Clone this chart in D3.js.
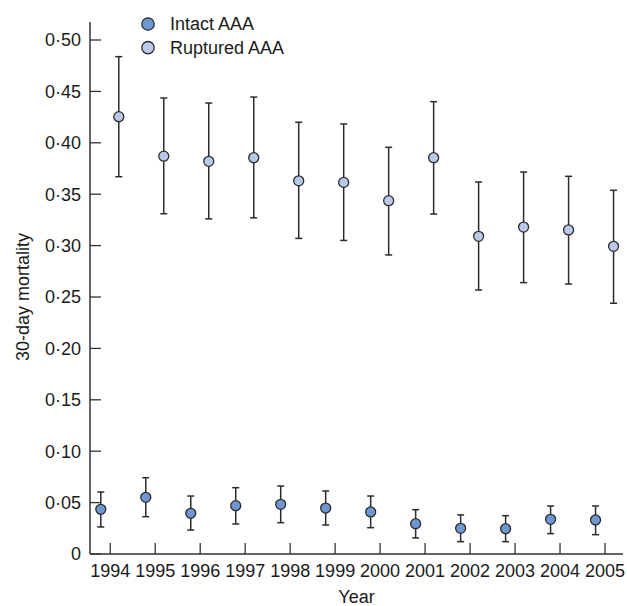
<!DOCTYPE html>
<html>
<head>
<meta charset="utf-8">
<script src="https://cdn.jsdelivr.net/npm/d3@7"></script>
<style>
  body { margin: 0; background: #fff; }
  svg text { font-family: 'Liberation Sans', Arial, sans-serif; fill: #1a1a1a; }
</style>
</head>
<body>
<div id="chart"></div>
<script>
const years = [1994, 1995, 1996, 1997, 1998, 1999, 2000, 2001, 2002, 2003, 2004, 2005]

const intactMean = [0.0435, 0.0551, 0.0396, 0.047, 0.0483, 0.0447, 0.0409, 0.0295, 0.025, 0.0246, 0.0337, 0.0331]
const intactLow = [0.0263, 0.0363, 0.0233, 0.0292, 0.0305, 0.0282, 0.0256, 0.0156, 0.012, 0.012, 0.0198, 0.0188]
const intactHigh = [0.0603, 0.0742, 0.0564, 0.0645, 0.0661, 0.0613, 0.0564, 0.0431, 0.038, 0.0373, 0.0467, 0.0467]

const rupturedMean = [0.4254, 0.387, 0.382, 0.3855, 0.363, 0.3615, 0.3437, 0.3855, 0.309, 0.318, 0.3152, 0.2993]
const rupturedLow = [0.367, 0.331, 0.326, 0.327, 0.307, 0.305, 0.2909, 0.3307, 0.2568, 0.264, 0.2626, 0.2439]
const rupturedHigh = [0.4838, 0.4436, 0.4387, 0.4445, 0.42, 0.4183, 0.3956, 0.44, 0.3619, 0.3716, 0.3674, 0.3538]

const yTicks = [0, 0.05, 0.1, 0.15, 0.2, 0.25, 0.3, 0.35, 0.4, 0.45, 0.5]

const seriesList = [
  { name: 'Intact AAA', mean: intactMean, low: intactLow, high: intactHigh, fill: '#7096d2', shift: -0.21 },
  { name: 'Ruptured AAA', mean: rupturedMean, low: rupturedLow, high: rupturedHigh, fill: '#b9c9e9', shift: 0.19 },
]

const width = 627
const height = 606
const margin = { top: 22, right: 4, bottom: 52, left: 90 }
const fontSize = '18px'

const svg = d3.select('#chart')
  .append('svg')
  .attr('width', width)
  .attr('height', height)

const x = d3.scaleLinear()
  .domain([1993.55, 2005.4])
  .range([margin.left, width - margin.right])

const y = d3.scaleLinear()
  .domain([0, 0.5])
  .range([554, 40])

const axisColor = '#333'

// y axis
svg.append('line')
  .attr('x1', margin.left).attr('x2', margin.left)
  .attr('y1', margin.top).attr('y2', y(0))
  .attr('stroke', axisColor).attr('stroke-width', 1.5)

const yAxis = svg.append('g')
yAxis.selectAll('line')
  .data(yTicks)
  .join('line')
  .attr('x1', margin.left).attr('x2', margin.left + 11)
  .attr('y1', d => y(d)).attr('y2', d => y(d))
  .attr('stroke', axisColor).attr('stroke-width', 1.3)
yAxis.selectAll('text')
  .data(yTicks)
  .join('text')
  .attr('x', margin.left - 9)
  .attr('y', d => y(d))
  .attr('dy', '0.35em')
  .attr('text-anchor', 'end')
  .style('font-size', fontSize)
  .text(d => d === 0 ? '0' : d3.format('.2f')(d).replace('.', '\u00b7'))

// x axis
svg.append('line')
  .attr('x1', margin.left).attr('x2', width - margin.right)
  .attr('y1', y(0)).attr('y2', y(0))
  .attr('stroke', axisColor).attr('stroke-width', 1.5)

const xAxis = svg.append('g')
xAxis.selectAll('line')
  .data(years)
  .join('line')
  .attr('x1', d => x(d)).attr('x2', d => x(d))
  .attr('y1', y(0)).attr('y2', y(0) - 11)
  .attr('stroke', axisColor).attr('stroke-width', 1.3)
xAxis.selectAll('text')
  .data(years)
  .join('text')
  .attr('x', d => x(d))
  .attr('y', 577)
  .attr('text-anchor', 'middle')
  .style('font-size', fontSize)
  .text(d => d)

svg.append('text')
  .attr('x', (margin.left + width - margin.right) / 2)
  .attr('y', 603)
  .attr('text-anchor', 'middle')
  .style('font-size', fontSize)
  .text('Year')

svg.append('text')
  .attr('transform', 'translate(28.5, 297) rotate(-90)')
  .attr('text-anchor', 'middle')
  .style('font-size', fontSize)
  .text('30-day mortality')

// error bars + points
seriesList.forEach(s => {
  const rows = years.map((yr, i) => ({ yr, mean: s.mean[i], low: s.low[i], high: s.high[i] }))
  const g = svg.append('g')
  const cx = d => x(d.yr + s.shift)

  g.selectAll('line.bar')
    .data(rows)
    .join('line')
    .attr('class', 'bar')
    .attr('x1', cx).attr('x2', cx)
    .attr('y1', d => y(d.low)).attr('y2', d => y(d.high))
    .attr('stroke', '#2b2b2b').attr('stroke-width', 1.5)

  ;['low', 'high'].forEach(k => {
    g.selectAll(`line.cap-${k}`)
      .data(rows)
      .join('line')
      .attr('class', `cap-${k}`)
      .attr('x1', d => cx(d) - 3.5).attr('x2', d => cx(d) + 3.5)
      .attr('y1', d => y(d[k])).attr('y2', d => y(d[k]))
      .attr('stroke', '#2b2b2b').attr('stroke-width', 1.5)
  })

  g.selectAll('circle')
    .data(rows)
    .join('circle')
    .attr('cx', cx)
    .attr('cy', d => y(d.mean))
    .attr('r', 5)
    .attr('fill', s.fill)
    .attr('stroke', '#2b2b2b')
    .attr('stroke-width', 1.3)
})

// legend
const legend = svg.append('g')
legend.selectAll('circle')
  .data(seriesList)
  .join('circle')
  .attr('cx', 148)
  .attr('cy', (d, i) => 24 + i * 23.7)
  .attr('r', 6.2)
  .attr('fill', d => d.fill)
  .attr('stroke', '#2b2b2b')
  .attr('stroke-width', 1.3)
legend.selectAll('text')
  .data(seriesList)
  .join('text')
  .attr('x', 170)
  .attr('y', (d, i) => 24 + i * 23.7)
  .attr('dy', '0.36em')
  .style('font-size', fontSize)
  .text(d => d.name)
</script>
</body>
</html>
